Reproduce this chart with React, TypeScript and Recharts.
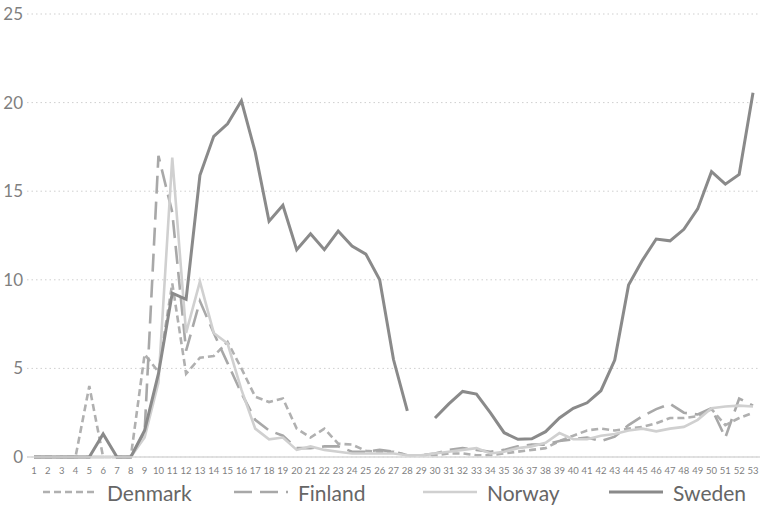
import { LineChart, Line, XAxis, YAxis, CartesianGrid, Legend } from 'recharts'

const weeks = [
  '1', '2', '3', '4', '5', '6', '7', '8', '9', '10',
  '11', '12', '13', '14', '15', '16', '17', '18', '19', '20',
  '21', '22', '23', '24', '25', '26', '27', '28', '29', '30',
  '31', '32', '33', '34', '35', '36', '37', '38', '39', '40',
  '41', '42', '43', '44', '45', '46', '47', '48', '49', '50',
  '51', '52', '53',
]

const denmark = [
  0, 0, 0, 0, 4.0, 0, 0, 0, 5.8, 4.8,
  9.8, 4.7, 5.6, 5.7, 6.5, 5.0, 3.4, 3.1, 3.3, 1.6,
  1.1, 1.6, 0.75, 0.7, 0.35, 0.3, 0.3, 0.1, 0.1, 0.1,
  0.2, 0.2, 0.1, 0.1, 0.2, 0.3, 0.4, 0.5, 0.9, 1.2,
  1.5, 1.6, 1.5, 1.6, 1.7, 1.9, 2.2, 2.2, 2.3, 2.7,
  1.8, 2.2, 2.5,
]

const finland = [
  0, 0, 0, 0, 0, 0, 0, 0, 1.4, 17.0,
  13.8, 6.0, 8.8, 7.0, 5.3, 3.6, 2.1, 1.5, 1.2, 0.5,
  0.5, 0.6, 0.6, 0.3, 0.3, 0.4, 0.3, 0.1, 0.1, 0.2,
  0.4, 0.5, 0.4, 0.3, 0.4, 0.6, 0.7, 0.7, 0.9, 1.0,
  1.1, 0.9, 1.15, 1.8, 2.3, 2.7, 3.0, 2.5, 2.4, 2.75,
  1.1, 3.3, 2.9,
]

const norway = [
  0, 0, 0, 0, 0, 0, 0, 0, 1.1, 4.2,
  16.9, 7.0, 9.9, 7.0, 6.4, 3.8, 1.6, 1.0, 1.1, 0.4,
  0.6, 0.4, 0.3, 0.2, 0.2, 0.2, 0.2, 0.1, 0.1, 0.2,
  0.3, 0.4, 0.5, 0.2, 0.3, 0.5, 0.6, 0.8, 1.35, 1.0,
  1.0, 1.2, 1.3, 1.5, 1.6, 1.45, 1.6, 1.7, 2.1, 2.75,
  2.85, 2.9, 2.85,
]

const sweden = [
  0, 0, 0, 0, 0, 1.3, 0, 0, 1.5, 4.7,
  9.25, 8.9, 15.9, 18.1, 18.8, 20.1, 17.2, 13.3, 14.2, 11.7,
  12.6, 11.7, 12.75, 11.9, 11.45, 10.0, 5.5, 2.6, null, 2.2,
  3.0, 3.7, 3.55, 2.5, 1.37, 1.0, 1.03, 1.43, 2.2, 2.75,
  3.06, 3.74, 5.47, 9.7, 11.1, 12.3, 12.2, 12.85, 14.0, 16.1,
  15.4, 15.95, 20.56,
]

const yTicks = [0, 5, 10, 15, 20, 25]

const series = [
  { key: 'Denmark', color: '#b0b0b0', dash: '7 4', width: 2.6 },
  { key: 'Finland', color: '#a8a8a8', dash: '18 8', width: 2.6 },
  { key: 'Norway', color: '#d0d0d0', dash: undefined, width: 2.6 },
  { key: 'Sweden', color: '#8a8a8a', dash: undefined, width: 3 },
]

const legendX = [43, 234, 423, 609]

const data = weeks.map((w, i) => ({
  week: w,
  Denmark: denmark[i],
  Finland: finland[i],
  Norway: norway[i],
  Sweden: sweden[i],
}))

function ChartLegend() {
  return (
    <div style={{ position: 'relative', width: 767, height: 30 }}>
      {series.map((s, i) => (
        <div
          key={s.key}
          style={{
            position: 'absolute',
            left: legendX[i],
            top: 0,
            height: 30,
            display: 'flex',
            alignItems: 'center',
          }}
        >
          <svg width={54} height={6}>
            <line
              x1={0}
              y1={3}
              x2={54}
              y2={3}
              stroke={s.color}
              strokeWidth={s.width}
              strokeDasharray={s.dash}
            />
          </svg>
          <span style={{ marginLeft: 10, fontSize: 21, color: '#666666' }}>{s.key}</span>
        </div>
      ))}
    </div>
  )
}

export default function App() {
  return (
    <div style={{ position: 'absolute', left: 0, top: 0, fontFamily: 'Lato, sans-serif' }}>
      <LineChart
        width={767}
        height={507}
        data={data}
        margin={{ top: 14, right: 7, left: 0, bottom: 0 }}
      >
        <CartesianGrid
          horizontal
          vertical={false}
          stroke="#cfcfcf"
          strokeDasharray="1.5 3"
        />
        <XAxis
          dataKey="week"
          interval={0}
          height={20}
          padding={{ left: 7, right: 7 }}
          tickLine={false}
          axisLine={{ stroke: '#d9d9d9', strokeWidth: 1.5 }}
          tick={{ fill: '#7f7f7f', fontSize: 9.5 }}
          tickMargin={4}
        />
        <YAxis
          width={27}
          domain={[0, 25]}
          ticks={yTicks}
          axisLine={false}
          tickLine={false}
          tickSize={0}
          tickMargin={4}
          tick={{ fill: '#7f7f7f', fontSize: 17 }}
        />
        <Legend verticalAlign="bottom" height={30} content={<ChartLegend />} />
        {series.map((s) => (
          <Line
            key={s.key}
            type="linear"
            dataKey={s.key}
            stroke={s.color}
            strokeWidth={s.width}
            strokeDasharray={s.dash}
            dot={false}
            activeDot={false}
            isAnimationActive={false}
          />
        ))}
      </LineChart>
    </div>
  )
}
